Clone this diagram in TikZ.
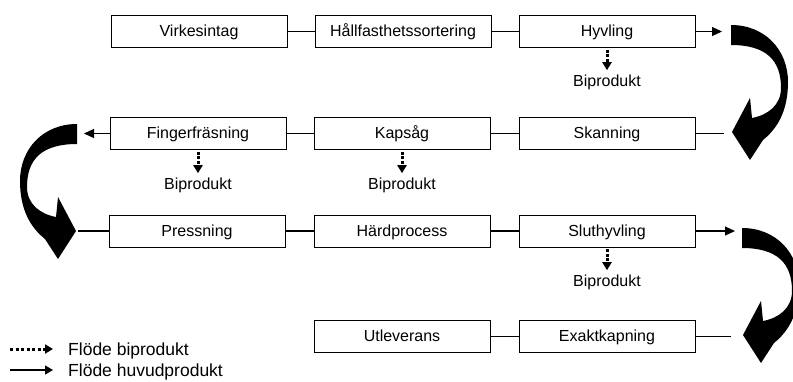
\documentclass[tikz,border=0pt]{standalone}
\usepackage{fontspec}
\setmainfont{Liberation Sans}
\usetikzlibrary{arrows.meta}
\tikzset{
  curvearrow/.pic={
    \fill[black] (0,0) .. controls (34,0) and (57,25) .. (57,57)
      .. controls (57,85) and (47,103) .. (32,115)
      -- (19,135) -- (1,107) -- (19,73) -- (21,93)
      .. controls (37,90) and (50,80) .. (50,63)
      .. controls (50,35) and (35,20) .. (0,20) -- cycle;
  }
}
\begin{document}
\begin{tikzpicture}[x=1pt,y=-1pt,
  proc/.style={draw, line width=0.9pt, minimum width=176pt, minimum height=32pt,
    inner sep=0pt, font=\fontsize{16}{19}\selectfont, text height=11.5pt, text depth=1pt},
  link/.style={line width=1.1pt},
  flow/.style={line width=1.1pt, -{Triangle[length=10pt,width=9pt]}},
  byflow/.style={line width=3pt, dash pattern=on 2.6pt off 1.9pt,
    -{Triangle[length=8pt,width=9pt]}, shorten <=2pt, shorten >=4pt},
  bytext/.style={font=\fontsize{16}{19}\selectfont, anchor=base, inner sep=0pt},
  legdot/.style={line width=3pt, dash pattern=on 3pt off 2.5pt,
    -{Triangle[length=8pt,width=9pt]}},
  legline/.style={line width=1.2pt, -{Triangle[length=8pt,width=9pt]}},
  legtext/.style={font=\fontsize{17.5}{21}\selectfont, anchor=base west, inner sep=0pt}
]
\useasboundingbox (0,0) rectangle (793,381);

% row 1
\node[proc] (vir) at (199,31.5) {Virkesintag};
\node[proc] (hal) at (403,31.5) {Hållfasthetssortering};
\node[proc] (hyv) at (607,31.5) {Hyvling};
% row 2
\node[proc] (fin) at (198,133.5) {Fingerfräsning};
\node[proc] (kap) at (402,133.5) {Kapsåg};
\node[proc] (ska) at (607,133.5) {Skanning};
% row 3
\node[proc] (pre) at (197,231) {Pressning};
\node[proc] (har) at (402,231) {Härdprocess};
\node[proc] (slu) at (607,231) {Sluthyvling};
% row 4
\node[proc] (utl) at (402,336.5) {Utleverans};
\node[proc] (exa) at (607,336.5) {Exaktkapning};

% big curved arrows
\pic at (731,25) {curvearrow};
\pic[xscale=-1] at (77,124) {curvearrow};
\pic at (742,228) {curvearrow};

% connector end points
\coordinate (a1) at (722,31.5);
\coordinate (a2) at (724,133.5);
\coordinate (a3) at (84,133.5);
\coordinate (a4) at (78,231);
\coordinate (a5) at (735,231);
\coordinate (a6) at (731,336.5);

% main connectors
\draw[link] (vir) -- (hal);
\draw[link] (hal) -- (hyv);
\draw[flow] (hyv) -- (a1);
\draw[link] (ska) -- (a2);
\draw[link] (ska) -- (kap);
\draw[link] (kap) -- (fin);
\draw[flow] (fin) -- (a3);
\draw[link] (a4) -- (pre);
\draw[link] (pre) -- (har);
\draw[link] (har) -- (slu);
\draw[flow] (slu) -- (a5);
\draw[link] (a6) -- (exa);
\draw[link] (exa) -- (utl);

% by-products
\node[bytext] (b1) at (607,86) {Biprodukt};
\node[bytext] (b2) at (198,189) {Biprodukt};
\node[bytext] (b3) at (402,189) {Biprodukt};
\node[bytext] (b4) at (607,286) {Biprodukt};
\draw[byflow] (hyv.south) -- (b1.north);
\draw[byflow] (fin.south) -- (b2.north);
\draw[byflow] (kap.south) -- (b3.north);
\draw[byflow] (slu.south) -- (b4.north);

% legend
\coordinate (l1a) at (10,349);
\coordinate (l1b) at (53,349);
\coordinate (l2a) at (10,370);
\coordinate (l2b) at (53,370);
\draw[legdot] (l1a) -- (l1b);
\draw[legline] (l2a) -- (l2b);
\node[legtext] (lt1) at (68,355.5) {Flöde biprodukt};
\node[legtext] (lt2) at (68,376.5) {Flöde huvudprodukt};
\end{tikzpicture}
\end{document}
